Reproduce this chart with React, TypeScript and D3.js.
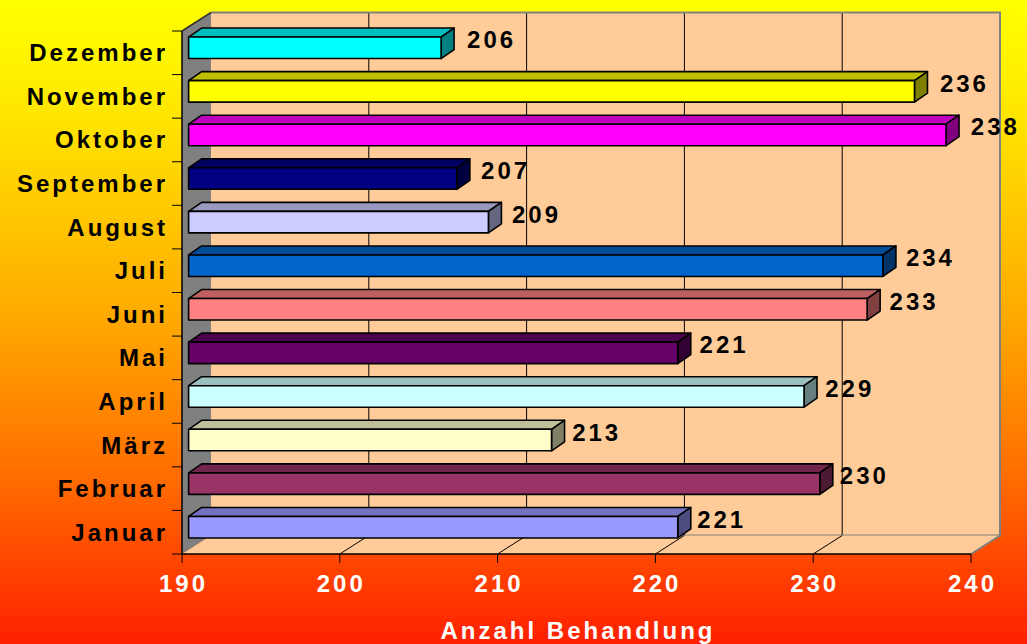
import React from "react";
import * as d3 from "d3";

const months = ["Januar", "Februar", "März", "April", "Mai", "Juni", "Juli", "August", "September", "Oktober", "November", "Dezember"];
const values = [221, 230, 213, 229, 221, 233, 234, 209, 207, 238, 236, 206];
const barColors = ["#9999FF", "#993366", "#FFFFCC", "#CCFFFF", "#660066", "#FF8080", "#0066CC", "#CCCCFF", "#000080", "#FF00FF", "#FFFF00", "#00FFFF"];
const xTicks = [190, 200, 210, 220, 230, 240];
const axisTitle = "Anzahl Behandlung";

const W = 1027;
const H = 644;
const FONT = "'Liberation Sans', Arial, sans-serif";
const FS = 24;
const LS = 3;

export default function App() {
  const x = d3.scaleLinear().domain([190, 240]).range([182, 971]);
  const y = d3.scaleBand<string>().domain([...months].reverse()).range([31, 554]).padding(0);
  const DX = 29, DY = -18.5; // wall depth
  const bx = 6.6, by = -3.8; // bar position in depth
  const bdx = 13, bdy = -9; // bar depth
  const bh = 21.5;

  const x0 = x(190), x1 = x(240);
  const yTop = 31, yBot = 554;
  const pts = (a: number[][]) => a.map((p) => p.join(",")).join(" ");

  const topOrder = [...months].reverse();

  return (
    <svg width={W} height={H} style={{ position: "absolute", left: 0, top: 0 }} fontFamily={FONT}>
      <defs>
        <linearGradient id="bg" x1="0" y1="0" x2="0" y2="1">
          <stop offset="0" stopColor="#FFFF00" />
          <stop offset="0.12" stopColor="#FFF000" />
          <stop offset="0.5" stopColor="#FFA800" />
          <stop offset="0.75" stopColor="#FF6A00" />
          <stop offset="1" stopColor="#FF2000" />
        </linearGradient>
      </defs>
      <rect x={0} y={0} width={W} height={H} fill="url(#bg)" />

      {/* back wall */}
      <rect x={x0 + DX} y={yTop + DY} width={x1 - x0} height={yBot - yTop} fill="#FFCC99" />
      {xTicks.slice(1, -1).map((t) => (
        <line key={"g" + t} x1={x(t) + DX} x2={x(t) + DX} y1={yTop + DY} y2={yBot + DY} stroke="#000" strokeWidth={1} />
      ))}
      <polyline points={pts([[x0 + DX, yTop + DY], [x1 + DX, yTop + DY], [x1 + DX, yBot + DY], [x0 + DX, yBot + DY]])} fill="none" stroke="#808080" strokeWidth={2} />

      {/* left wall */}
      <polygon points={pts([[x0, yTop], [x0 + DX, yTop + DY], [x0 + DX, yBot + DY], [x0, yBot]])} fill="#808080" stroke="none" />
      {/* floor */}
      <polygon points={pts([[x0, yBot], [x0 + DX, yBot + DY], [x1 + DX, yBot + DY], [x1, yBot]])} fill="#FFCC99" stroke="none" />
      {xTicks.slice(1, -1).map((t) => (
        <line key={"f" + t} x1={x(t)} x2={x(t) + DX} y1={yBot} y2={yBot + DY} stroke="#000" strokeWidth={1} />
      ))}
      <line x1={x1} y1={yBot} x2={x1 + DX} y2={yBot + DY} stroke="#808080" strokeWidth={2} />
      <line x1={x0} y1={yTop} x2={x0 + DX} y2={yTop + DY} stroke="#333" strokeWidth={1.5} />

      {/* axes */}
      <line x1={x0} x2={x0} y1={yTop} y2={yBot} stroke="#000" strokeWidth={1.5} />
      <line x1={x0} x2={x1} y1={yBot} y2={yBot} stroke="#000" strokeWidth={1.5} />
      {xTicks.map((t) => (
        <line key={"t" + t} x1={x(t)} x2={x(t)} y1={yBot} y2={yBot + 9} stroke="#000" strokeWidth={1} />
      ))}
      {d3.range(months.length + 1).map((i) => {
        const yy = yTop + i * y.bandwidth();
        return <line key={"yt" + i} x1={x0 - 10} x2={x0} y1={yy} y2={yy} stroke="#000" strokeWidth={1} />;
      })}

      {/* bars */}
      {months.map((m, i) => {
        const v = values[i];
        const c = d3.rgb(barColors[i]);
        const topC = d3.rgb(c.r * 0.75, c.g * 0.75, c.b * 0.75).formatHex();
        const sideC = d3.rgb(c.r * 0.5, c.g * 0.5, c.b * 0.5).formatHex();
        const cy = (y(m) as number) + y.bandwidth() / 2 + by - 1.2;
        const L = x(190) + bx;
        const R = x(v) + bx;
        const T = cy - bh / 2;
        const B = cy + bh / 2;
        const rowFromTop = topOrder.indexOf(m);
        const gap = 14 - 0.6 * rowFromTop;
        return (
          <g key={m} stroke="#000" strokeWidth={1.6} strokeLinejoin="round">
            <polygon points={pts([[L, T], [L + bdx, T + bdy], [R + bdx, T + bdy], [R, T]])} fill={topC} />
            <polygon points={pts([[R, T], [R + bdx, T + bdy], [R + bdx, B + bdy], [R, B]])} fill={sideC} />
            <rect x={L} y={T} width={R - L} height={bh} fill={barColors[i]} />
            <text
              x={R + bdx + gap - 1}
              y={cy - 8}
              dominantBaseline="central"
              fontSize={FS}
              fontWeight="bold"
              letterSpacing={LS}
              fill="#000"
              stroke="none"
            >
              {v}
            </text>
          </g>
        );
      })}

      {/* category labels */}
      {months.map((m) => (
        <text
          key={"c" + m}
          x={165 + LS}
          y={(y(m) as number) + y.bandwidth() / 2}
          textAnchor="end"
          dominantBaseline="central"
          fontSize={FS}
          fontWeight="bold"
          letterSpacing={LS}
          fill="#000"
        >
          {m}
        </text>
      ))}

      {/* x tick labels */}
      {xTicks.map((t) => (
        <text
          key={"xl" + t}
          x={x(t) + LS / 2}
          y={583}
          textAnchor="middle"
          dominantBaseline="central"
          fontSize={FS}
          fontWeight="bold"
          letterSpacing={LS}
          fill="#FFF"
        >
          {t}
        </text>
      ))}

      <text
        x={(x0 + x1) / 2 + LS / 2}
        y={630}
        textAnchor="middle"
        dominantBaseline="central"
        fontSize={FS}
        fontWeight="bold"
        letterSpacing={LS}
        fill="#FFF"
      >
        {axisTitle}
      </text>
    </svg>
  );
}
